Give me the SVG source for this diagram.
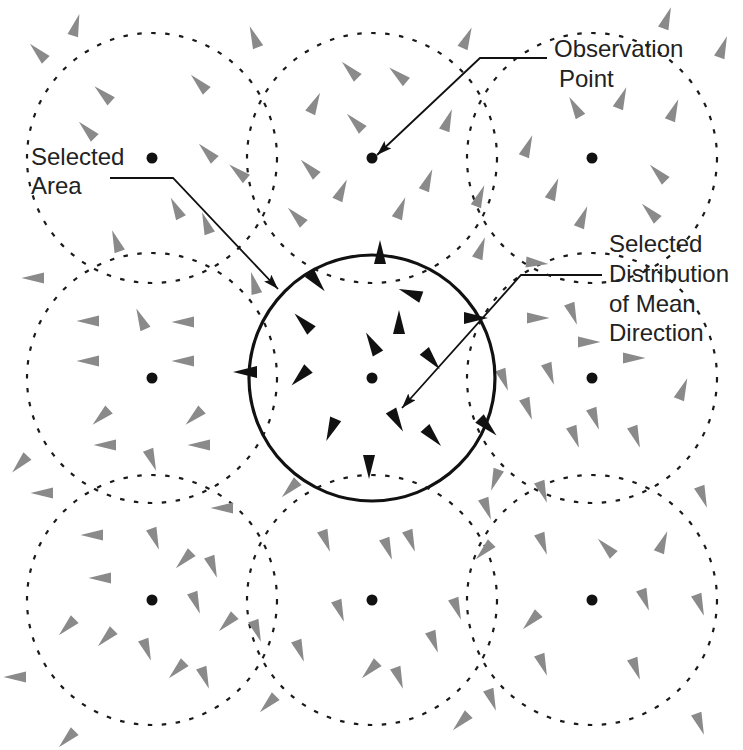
<svg xmlns="http://www.w3.org/2000/svg" xmlns:xlink="http://www.w3.org/1999/xlink" width="743" height="750" viewBox="0 0 743 750">
<style>
.area{fill:none;stroke:#1a1a1a;stroke-width:2.2;stroke-dasharray:4.5 9.5}
.dot{fill:#111}
.g{fill:#8a8a8a}
.k{fill:#111}
.sel{fill:none;stroke:#111;stroke-width:3.2}
.lead{fill:none;stroke:#111;stroke-width:1.8}
.lbl{font-family:"Liberation Sans",Arial,sans-serif;font-size:24px;fill:#222}
</style>
<defs>
<path id="tri" d="M11.5,0 L-11,-5.5 L-11,5.5 Z"/>
<path id="btri" d="M12,0 L-12,-6 L-12,6 Z"/>
<marker id="ah" markerUnits="userSpaceOnUse" markerWidth="16" markerHeight="10" refX="15" refY="5" orient="auto">
<path d="M0,0 L15,5 L0,10 L3,5 Z" fill="#111"/>
</marker>
</defs>
<rect width="743" height="750" fill="#fff"/>

<g id="area-1-1"><circle class="area" cx="152" cy="158" r="125"/><circle class="dot" cx="152" cy="158" r="5.5"/></g>
<g id="area-1-2"><circle class="area" cx="372" cy="158" r="125"/><circle class="dot" cx="372" cy="158" r="5.5"/></g>
<g id="area-1-3"><circle class="area" cx="592" cy="158" r="125"/><circle class="dot" cx="592" cy="158" r="5.5"/></g>
<g id="area-2-1"><circle class="area" cx="152" cy="378" r="125"/><circle class="dot" cx="152" cy="378" r="5.5"/></g>
<g id="area-2-3"><circle class="area" cx="592" cy="378" r="125"/><circle class="dot" cx="592" cy="378" r="5.5"/></g>
<g id="area-3-1"><circle class="area" cx="152" cy="600" r="125"/><circle class="dot" cx="152" cy="600" r="5.5"/></g>
<g id="area-3-2"><circle class="area" cx="372" cy="600" r="125"/><circle class="dot" cx="372" cy="600" r="5.5"/></g>
<g id="area-3-3"><circle class="area" cx="592" cy="600" r="125"/><circle class="dot" cx="592" cy="600" r="5.5"/></g>

<g id="directions" class="g">
<use xlink:href="#tri" transform="translate(76,25) rotate(-73)"/>
<use xlink:href="#tri" transform="translate(38,52) rotate(-135)"/>
<use xlink:href="#tri" transform="translate(103,94) rotate(-138)"/>
<use xlink:href="#tri" transform="translate(87,130) rotate(-135)"/>
<use xlink:href="#tri" transform="translate(199,83) rotate(-135)"/>
<use xlink:href="#tri" transform="translate(207,152) rotate(-135)"/>
<use xlink:href="#tri" transform="translate(238,172) rotate(-140)"/>
<use xlink:href="#tri" transform="translate(176,208) rotate(-117)"/>
<use xlink:href="#tri" transform="translate(206,223) rotate(-110)"/>
<use xlink:href="#tri" transform="translate(116,241) rotate(-110)"/>
<use xlink:href="#tri" transform="translate(254,37) rotate(-112)"/>
<use xlink:href="#tri" transform="translate(467,38) rotate(-66)"/>
<use xlink:href="#tri" transform="translate(350,70) rotate(-135)"/>
<use xlink:href="#tri" transform="translate(398,75) rotate(-140)"/>
<use xlink:href="#tri" transform="translate(315,103) rotate(-64)"/>
<use xlink:href="#tri" transform="translate(355,122) rotate(-135)"/>
<use xlink:href="#tri" transform="translate(448,120) rotate(-70)"/>
<use xlink:href="#tri" transform="translate(309,168) rotate(-135)"/>
<use xlink:href="#tri" transform="translate(342,190) rotate(-65)"/>
<use xlink:href="#tri" transform="translate(428,180) rotate(-68)"/>
<use xlink:href="#tri" transform="translate(401,208) rotate(-68)"/>
<use xlink:href="#tri" transform="translate(296,216) rotate(-135)"/>
<use xlink:href="#tri" transform="translate(480,196) rotate(-68)"/>
<use xlink:href="#tri" transform="translate(667,18) rotate(-70)"/>
<use xlink:href="#tri" transform="translate(723,47) rotate(-70)"/>
<use xlink:href="#tri" transform="translate(575,107) rotate(-120)"/>
<use xlink:href="#tri" transform="translate(622,98) rotate(-68)"/>
<use xlink:href="#tri" transform="translate(674,110) rotate(-68)"/>
<use xlink:href="#tri" transform="translate(528,146) rotate(-68)"/>
<use xlink:href="#tri" transform="translate(658,173) rotate(-135)"/>
<use xlink:href="#tri" transform="translate(554,189) rotate(-68)"/>
<use xlink:href="#tri" transform="translate(650,212) rotate(-135)"/>
<use xlink:href="#tri" transform="translate(583,217) rotate(-68)"/>
<use xlink:href="#tri" transform="translate(481,248) rotate(-70)"/>
<use xlink:href="#tri" transform="translate(33,278) rotate(180)"/>
<use xlink:href="#tri" transform="translate(88,321) rotate(180)"/>
<use xlink:href="#tri" transform="translate(141,319) rotate(-114)"/>
<use xlink:href="#tri" transform="translate(183,322) rotate(180)"/>
<use xlink:href="#tri" transform="translate(88,361) rotate(180)"/>
<use xlink:href="#tri" transform="translate(183,361) rotate(180)"/>
<use xlink:href="#tri" transform="translate(101,417) rotate(137)"/>
<use xlink:href="#tri" transform="translate(194,417) rotate(137)"/>
<use xlink:href="#tri" transform="translate(105,445) rotate(180)"/>
<use xlink:href="#tri" transform="translate(199,445) rotate(180)"/>
<use xlink:href="#tri" transform="translate(152,460) rotate(69)"/>
<use xlink:href="#tri" transform="translate(20,464) rotate(133)"/>
<use xlink:href="#tri" transform="translate(42,493) rotate(180)"/>
<use xlink:href="#tri" transform="translate(254,283) rotate(-105)"/>
<use xlink:href="#tri" transform="translate(537,263) rotate(5)"/>
<use xlink:href="#tri" transform="translate(538,318) rotate(0)"/>
<use xlink:href="#tri" transform="translate(573,314) rotate(70)"/>
<use xlink:href="#tri" transform="translate(589,342) rotate(0)"/>
<use xlink:href="#tri" transform="translate(634,358) rotate(0)"/>
<use xlink:href="#tri" transform="translate(504,380) rotate(70)"/>
<use xlink:href="#tri" transform="translate(550,374) rotate(70)"/>
<use xlink:href="#tri" transform="translate(683,389) rotate(-68)"/>
<use xlink:href="#tri" transform="translate(528,409) rotate(70)"/>
<use xlink:href="#tri" transform="translate(595,419) rotate(70)"/>
<use xlink:href="#tri" transform="translate(575,437) rotate(70)"/>
<use xlink:href="#tri" transform="translate(636,437) rotate(70)"/>
<use xlink:href="#tri" transform="translate(495,480) rotate(110)"/>
<use xlink:href="#tri" transform="translate(543,492) rotate(70)"/>
<use xlink:href="#tri" transform="translate(703,497) rotate(70)"/>
<use xlink:href="#tri" transform="translate(92,535) rotate(180)"/>
<use xlink:href="#tri" transform="translate(155,539) rotate(70)"/>
<use xlink:href="#tri" transform="translate(184,560) rotate(135)"/>
<use xlink:href="#tri" transform="translate(213,567) rotate(70)"/>
<use xlink:href="#tri" transform="translate(222,508) rotate(180)"/>
<use xlink:href="#tri" transform="translate(100,578) rotate(180)"/>
<use xlink:href="#tri" transform="translate(196,603) rotate(70)"/>
<use xlink:href="#tri" transform="translate(227,623) rotate(135)"/>
<use xlink:href="#tri" transform="translate(67,627) rotate(135)"/>
<use xlink:href="#tri" transform="translate(106,638) rotate(135)"/>
<use xlink:href="#tri" transform="translate(147,650) rotate(70)"/>
<use xlink:href="#tri" transform="translate(177,670) rotate(135)"/>
<use xlink:href="#tri" transform="translate(205,678) rotate(70)"/>
<use xlink:href="#tri" transform="translate(15,677) rotate(180)"/>
<use xlink:href="#tri" transform="translate(67,739) rotate(135)"/>
<use xlink:href="#tri" transform="translate(326,541) rotate(70)"/>
<use xlink:href="#tri" transform="translate(388,549) rotate(70)"/>
<use xlink:href="#tri" transform="translate(411,541) rotate(70)"/>
<use xlink:href="#tri" transform="translate(487,509) rotate(70)"/>
<use xlink:href="#tri" transform="translate(484,551) rotate(135)"/>
<use xlink:href="#tri" transform="translate(340,611) rotate(70)"/>
<use xlink:href="#tri" transform="translate(457,609) rotate(70)"/>
<use xlink:href="#tri" transform="translate(257,631) rotate(70)"/>
<use xlink:href="#tri" transform="translate(300,651) rotate(70)"/>
<use xlink:href="#tri" transform="translate(434,642) rotate(70)"/>
<use xlink:href="#tri" transform="translate(370,670) rotate(135)"/>
<use xlink:href="#tri" transform="translate(399,678) rotate(70)"/>
<use xlink:href="#tri" transform="translate(268,704) rotate(135)"/>
<use xlink:href="#tri" transform="translate(461,722) rotate(135)"/>
<use xlink:href="#tri" transform="translate(492,700) rotate(70)"/>
<use xlink:href="#tri" transform="translate(290,489) rotate(135)"/>
<use xlink:href="#tri" transform="translate(543,544) rotate(70)"/>
<use xlink:href="#tri" transform="translate(606,547) rotate(-135)"/>
<use xlink:href="#tri" transform="translate(663,542) rotate(-68)"/>
<use xlink:href="#tri" transform="translate(645,600) rotate(70)"/>
<use xlink:href="#tri" transform="translate(700,605) rotate(70)"/>
<use xlink:href="#tri" transform="translate(531,621) rotate(135)"/>
<use xlink:href="#tri" transform="translate(543,665) rotate(70)"/>
<use xlink:href="#tri" transform="translate(636,669) rotate(70)"/>
<use xlink:href="#tri" transform="translate(700,724) rotate(70)"/>
</g>

<g id="selected-area">
<circle class="sel" cx="372" cy="378" r="123"/>
<circle class="dot" cx="372" cy="378" r="5.5"/>
<g class="k">
<use xlink:href="#btri" transform="translate(380,252) rotate(-90)"/>
<use xlink:href="#btri" transform="translate(317,282) rotate(50)"/>
<use xlink:href="#btri" transform="translate(410,293) rotate(-160)"/>
<use xlink:href="#btri" transform="translate(303,322) rotate(-135)"/>
<use xlink:href="#btri" transform="translate(399,322) rotate(-90)"/>
<use xlink:href="#btri" transform="translate(372,343) rotate(-120)"/>
<use xlink:href="#btri" transform="translate(476,318) rotate(0)"/>
<use xlink:href="#btri" transform="translate(432,360) rotate(50)"/>
<use xlink:href="#btri" transform="translate(245,372) rotate(180)"/>
<use xlink:href="#btri" transform="translate(300,377) rotate(135)"/>
<use xlink:href="#btri" transform="translate(397,421) rotate(60)"/>
<use xlink:href="#btri" transform="translate(331,430) rotate(113)"/>
<use xlink:href="#btri" transform="translate(433,437) rotate(48)"/>
<use xlink:href="#btri" transform="translate(488,427) rotate(45)"/>
<use xlink:href="#btri" transform="translate(369,467) rotate(90)"/>
</g>
</g>

<g id="connectors">
<polyline class="lead" points="547,58 480,58 377,155" marker-end="url(#ah)"/>
<polyline class="lead" points="110,178 173,178 278,289" marker-end="url(#ah)"/>
<polyline class="lead" points="602,275 521,275 402,408" marker-end="url(#ah)"/>
</g>

<g id="label-observation"><text class="lbl" x="554" y="57">Observation</text><text class="lbl" x="559" y="87">Point</text></g>
<g id="label-area"><text class="lbl" x="31" y="165">Selected</text><text class="lbl" x="31" y="194">Area</text></g>
<g id="label-distribution"><text class="lbl" x="609" y="252">Selected</text><text class="lbl" x="609" y="282">Distribution</text><text class="lbl" x="609" y="312">of Mean</text><text class="lbl" x="609" y="341">Direction</text></g>
</svg>
